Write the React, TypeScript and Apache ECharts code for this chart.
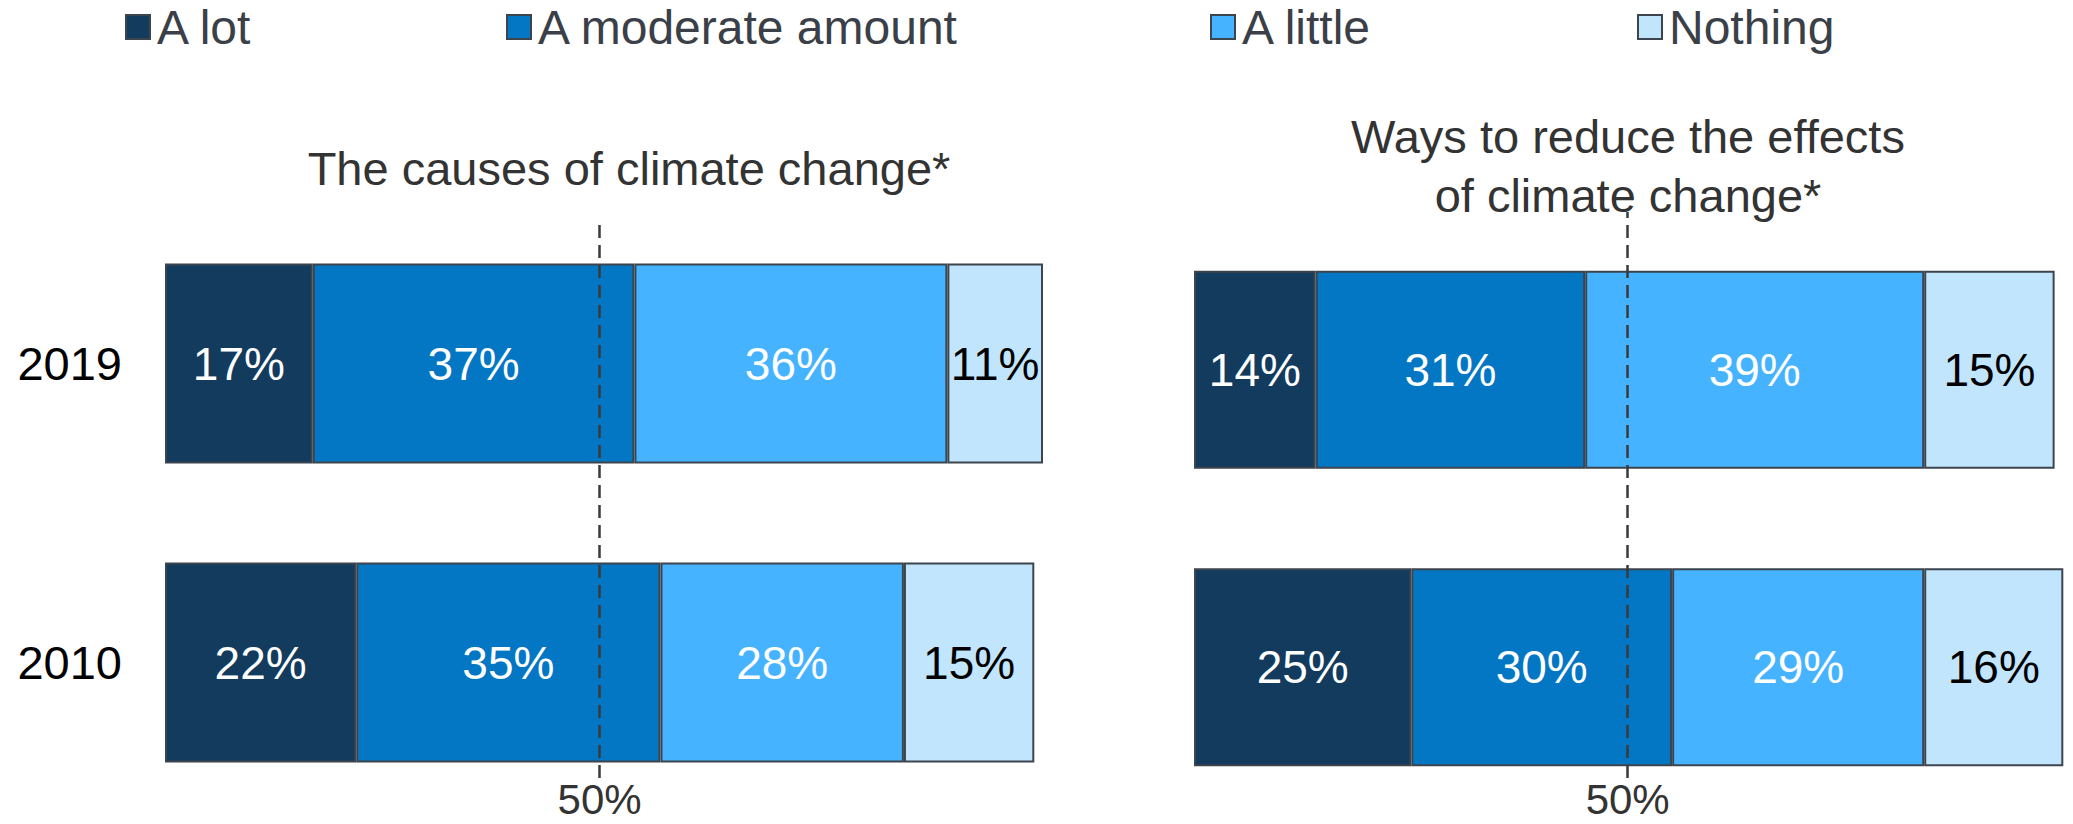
import React, { useEffect, useRef } from "react";
import * as echarts from "echarts";

const years = ["2019", "2010"];
const seriesNames = ["A lot", "A moderate amount", "A little", "Nothing"];
const causesALot = [17, 22];
const causesModerate = [37, 35];
const causesLittle = [36, 28];
const causesNothing = [11, 15];
const reduceALot = [14, 25];
const reduceModerate = [31, 30];
const reduceLittle = [39, 29];
const reduceNothing = [15, 16];
const referenceValue = 50;
const leftTitle = "The causes of climate change*";
const rightTitle = "Ways to reduce the effects\nof climate change*";

const colors = ["#123B5E", "#0376C4", "#45B3FF", "#C2E5FE"];
const labelColors = ["#ffffff", "#ffffff", "#ffffff", "#000000"];
const FONT = "'Liberation Sans', Arial, sans-serif";

export default function App() {
  const ref = useRef<HTMLDivElement>(null);
  useEffect(() => {
    if (!ref.current) return;
    const chart = echarts.init(ref.current, null, { renderer: "svg" });
    const causes = [causesALot, causesModerate, causesLittle, causesNothing];
    const reduce = [reduceALot, reduceModerate, reduceLittle, reduceNothing];
    const legendLeft = [125, 506, 1210, 1637];

    const barSeries = (data: number[][], axisIndex: number, stack: string, barWidth: number) =>
      data.map((vals, i) => ({
        type: "bar",
        name: seriesNames[i],
        stack,
        xAxisIndex: axisIndex,
        yAxisIndex: axisIndex,
        barWidth,
        data: vals,
        itemStyle: { color: colors[i], borderColor: "#3c444e", borderWidth: 2 },
        label: {
          show: true,
          position: "inside",
          formatter: "{c}%",
          color: labelColors[i],
          fontSize: 46,
          fontFamily: FONT,
        },
      }));

    const lineSeries = (axisIndex: number) => ({
      type: "line",
      xAxisIndex: axisIndex,
      yAxisIndex: axisIndex,
      data: [],
      z: 10,
      markLine: {
        silent: true,
        symbol: ["none", "none"],
        label: { show: false },
        lineStyle: { type: [13, 7], color: "#3a3a3a", width: 2.5 },
        data: [{ xAxis: referenceValue }],
      },
    });

    const hiddenX = { type: "value", min: 0, max: 101, show: false };
    const lineX = (gi: number) => ({
      type: "value",
      gridIndex: gi,
      min: 0,
      max: 101,
      interval: 50,
      axisLine: { show: false },
      axisTick: { show: false },
      splitLine: { show: false },
      axisLabel: {
        margin: 3,
        fontSize: 42,
        lineHeight: 36,
        color: "#333333",
        fontFamily: FONT,
        formatter: (v: number) => (v === referenceValue ? "50%" : ""),
      },
    });

    chart.setOption({
      animation: false,
      backgroundColor: "#ffffff",
      legend: seriesNames.map((n, i) => ({
        data: [n],
        left: legendLeft[i],
        top: 3,
        padding: 0,
        itemWidth: 24,
        itemHeight: 24,
        itemGap: 10,
        icon: "rect",
        selectedMode: false,
        textStyle: { fontSize: 48, color: "#3a3f48", fontFamily: FONT, padding: [0, 0, 0, 2] },
      })),
      grid: [
        { left: 165, width: 878, top: 214, height: 598 },
        { left: 1194, width: 878, top: 221, height: 595 },
        { left: 165, width: 878, top: 219, height: 559 },
        { left: 1194, width: 878, top: 212, height: 566 },
      ],
      xAxis: [
        { ...hiddenX, gridIndex: 0 },
        { ...hiddenX, gridIndex: 1 },
        lineX(2),
        lineX(3),
      ],
      yAxis: [
        {
          type: "category",
          gridIndex: 0,
          data: years,
          inverse: true,
          axisLine: { show: false },
          axisTick: { show: false },
          axisLabel: { margin: 43, fontSize: 47, color: "#000000", fontFamily: FONT },
        },
        {
          type: "category",
          gridIndex: 1,
          data: years,
          inverse: true,
          axisLine: { show: false },
          axisTick: { show: false },
          axisLabel: { show: false },
        },
        { type: "value", gridIndex: 2, min: 0, max: 1, show: false },
        { type: "value", gridIndex: 3, min: 0, max: 1, show: false },
      ],
      graphic: [
        {
          type: "text",
          x: 629,
          y: 168,
          style: {
            text: leftTitle,
            font: `47px ${FONT}`,
            fill: "#333333",
            textAlign: "center",
            textVerticalAlign: "middle",
          },
        },
        {
          type: "text",
          x: 1628,
          y: 166,
          style: {
            text: rightTitle,
            font: `47px ${FONT}`,
            lineHeight: 59,
            fill: "#333333",
            textAlign: "center",
            textVerticalAlign: "middle",
          },
        },
      ],
      series: [
        ...barSeries(causes, 0, "causes", 200),
        ...barSeries(reduce, 1, "reduce", 198),
        lineSeries(2),
        lineSeries(3),
      ],
    });
    return () => chart.dispose();
  }, []);
  return (
    <div
      ref={ref}
      style={{ position: "fixed", left: 0, top: 0, width: 2073, height: 824 }}
    />
  );
}
